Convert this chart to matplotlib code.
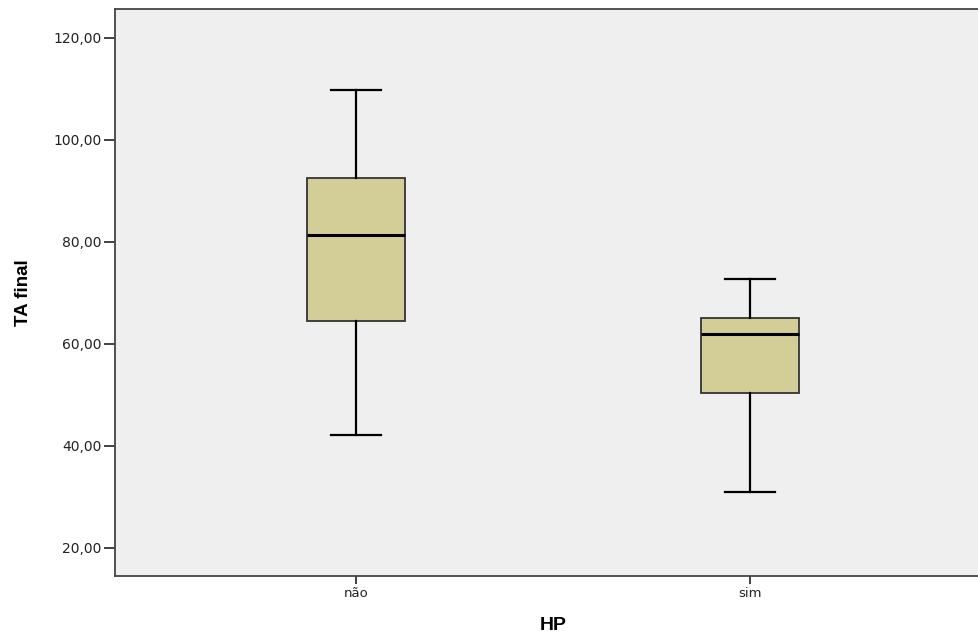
import matplotlib
matplotlib.use("Agg")
import matplotlib.pyplot as plt

plt.rcParams['font.family'] = ['Liberation Sans', 'DejaVu Sans']

groups = ['não', 'sim']
whislo = [42.1, 31.0]
q1 = [64.4, 50.4]
med = [81.3, 61.9]
q3 = [92.6, 65.1]
whishi = [109.8, 72.7]
yticks = [20, 40, 60, 80, 100, 120]

stats = []
for i, g in enumerate(groups):
    stats.append(dict(label=g, whislo=whislo[i], q1=q1[i], med=med[i],
                      q3=q3[i], whishi=whishi[i], fliers=[]))

fig = plt.figure(figsize=(9.79, 6.37), dpi=100)
ax = fig.add_axes([115 / 979, 61 / 637, 1 - 115 / 979, 566.7 / 637])
ax.set_facecolor('#efefef')

ax.bxp(stats, positions=[1, 2], widths=0.25, patch_artist=True,
       showfliers=False,
       boxprops=dict(facecolor='#d3ce97', edgecolor='#333333', linewidth=1.3),
       medianprops=dict(color='black', linewidth=2.2),
       whiskerprops=dict(color='black', linewidth=1.6),
       capprops=dict(color='black', linewidth=1.6),
       capwidths=0.127)

ax.set_xlim(0.388, 2.581)
ax.set_ylim(14.51, 125.57)
ax.set_yticks(yticks)
ax.set_yticklabels([f'{v:.2f}'.replace('.', ',') for v in yticks],
                   fontsize=10, color='#222222', family='DejaVu Sans')
ax.set_xticks([1, 2])
ax.set_xticklabels(groups, fontsize=9.5, color='#222222', family='DejaVu Sans')
ax.tick_params(axis='y', direction='out', length=8, width=1.3, color='#333333', pad=1.5)
ax.tick_params(axis='x', direction='out', length=6, width=1.3, color='#333333', pad=2)

for s in ['left', 'top', 'bottom']:
    ax.spines[s].set_color('#444444')
    ax.spines[s].set_linewidth(1.3)
ax.spines['right'].set_visible(False)

ax.set_xlabel('HP', fontsize=14, fontweight='bold')
ax.xaxis.set_label_coords((553 - 115) / 864, -0.072)
ax.set_ylabel('TA final', fontsize=13.5, fontweight='bold')
ax.yaxis.set_label_coords(-(115 - 32) / 864, (637 - 293 - 61) / 566.7)

fig.savefig('out.png', dpi=100)
